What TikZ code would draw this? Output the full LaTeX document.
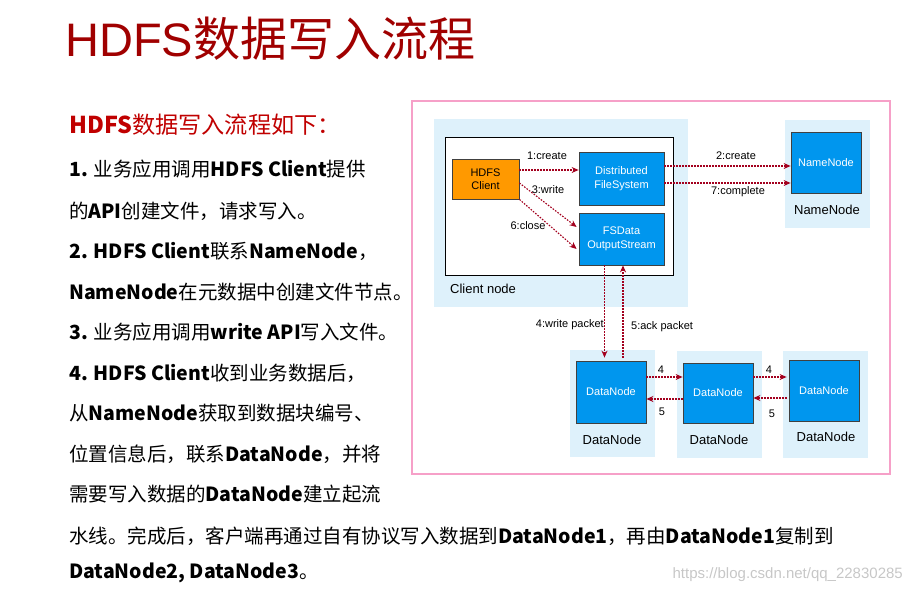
\documentclass[tikz,border=0pt]{standalone}
\usepackage{fontspec}
\setmainfont{Liberation Sans}
\newfontfamily\cjk{Noto Sans CJK SC}
\usetikzlibrary{arrows.meta}
\definecolor{titlered}{HTML}{A00000}
\definecolor{headred}{HTML}{C00000}
\definecolor{framepink}{HTML}{F6A0C8}
\definecolor{panelblue}{HTML}{DEF1FB}
\definecolor{boxblue}{HTML}{0096EE}
\definecolor{clientorange}{HTML}{FF9900}
\definecolor{arrowred}{HTML}{A3001E}
\begin{document}
\begin{tikzpicture}[x=1pt,y=-1pt,
    bluebox/.style={draw=black!75,line width=0.8pt,fill=boxblue,text=white,align=center,inner sep=0pt,font=\fontsize{11}{13.5}\selectfont},
    flow/.style={draw=arrowred,line width=1.1pt,dash pattern=on 1.6pt off 1.4pt,-{Stealth[length=7pt,width=6pt]}},
    lbl/.style={inner sep=0pt,font=\fontsize{11}{13}\selectfont},
    captext/.style={inner sep=0pt,font=\fontsize{13}{15}\selectfont},
    txt/.style={anchor=base west,inner sep=0pt,font=\cjk\fontsize{19.5}{24}\selectfont}]
\useasboundingbox (0,0) rectangle (911,592);

% title and text
\node[anchor=base west,inner sep=0pt,text=titlered,font=\fontsize{47}{51}\selectfont] (title) at (65,56) {HDFS{\cjk 数据写入流程}};
\node[txt,text=headred,font=\cjk\fontsize{23.2}{27}\selectfont] (head) at (69,133.5) {\textbf{HDFS}数据写入流程如下：};
\node[txt] (l1) at (69,176) {\textbf{1.} 业务应用调用\textbf{HDFS Client}提供};
\node[txt] (l2) at (69,218) {的\textbf{API}创建文件，请求写入。};
\node[txt] (l3) at (69,258) {\textbf{2. HDFS Client}联系\textbf{NameNode}，};
\node[txt] (l4) at (69,299) {\textbf{NameNode}在元数据中创建文件节点。};
\node[txt] (l5) at (69,339) {\textbf{3.} 业务应用调用\textbf{write API}写入文件。};
\node[txt] (l6) at (69,380) {\textbf{4. HDFS Client}收到业务数据后，};
\node[txt] (l7) at (69,420) {从\textbf{NameNode}获取到数据块编号、};
\node[txt] (l8) at (69,461) {位置信息后，联系\textbf{DataNode}，并将};
\node[txt] (l9) at (69,501) {需要写入数据的\textbf{DataNode}建立起流};
\node[txt] (l10) at (69,543) {水线。完成后，客户端再通过自有协议写入数据到\textbf{DataNode1}，再由\textbf{DataNode1}复制到};
\node[txt] (l11) at (69,578) {\textbf{DataNode2, DataNode3}。};
\node[anchor=base east,inner sep=0pt,text=black!22,font=\fontsize{15}{17}\selectfont] (mark) at (903,578) {https://blog.csdn.net/qq\_22830285};

% frame and panels
\draw[framepink,line width=2pt] (412,101) rectangle (890,474);
\fill[panelblue] (434,119) rectangle (688,307);
\fill[panelblue] (785,120) rectangle (870,228);
\fill[panelblue] (570,350) rectangle (655,457);
\fill[panelblue] (677,351) rectangle (762,458);
\fill[panelblue] (783,351) rectangle (868,458);
\draw[fill=white,line width=1pt] (445,137) rectangle (673,275);

% boxes
\node[bluebox,fill=clientorange,text=black,minimum width=67pt,minimum height=40pt] (client) at (485.5,179) {HDFS\\Client};
\node[bluebox,minimum width=85pt,minimum height=53pt] (dfs) at (621.5,178.5) {Distributed\\FileSystem};
\node[bluebox,minimum width=85pt,minimum height=52pt] (fsd) at (621.5,239) {FSData\\OutputStream};
\node[bluebox,minimum width=70pt,minimum height=61pt] (nn) at (826,162.5) {NameNode};
\node[bluebox,minimum width=70pt,minimum height=62pt] (dn1) at (611,392) {DataNode};
\node[bluebox,minimum width=70pt,minimum height=60pt] (dn2) at (718,393) {DataNode};
\node[bluebox,minimum width=70pt,minimum height=61pt] (dn3) at (824,390.5) {DataNode};

\node[captext,anchor=west] (cn) at (450,289) {Client node};
\node[captext] (nncap) at (827,210) {NameNode};
\node[captext] (dn1cap) at (612,440) {DataNode};
\node[captext] (dn2cap) at (719,440) {DataNode};
\node[captext] (dn3cap) at (826,437) {DataNode};

% arrows
\draw[flow] ([yshift=9pt]client.east) -- ([yshift=9pt]client.east -| dfs.west);
\draw[flow] ([yshift=12.5pt]dfs.east) -- ([yshift=12.5pt]dfs.east -| nn.west);
\draw[flow] ([yshift=-4.5pt]dfs.east) -- ([yshift=-4.5pt]dfs.east -| nn.west);
\draw[flow] ([yshift=-4pt]client.east) -- ([yshift=12pt,xshift=-2pt]fsd.west);
\draw[flow] (client.south east) -- ([yshift=-10pt,xshift=-2pt]fsd.west);
\draw[flow] ([xshift=-17pt]fsd.south) -- ([xshift=-17pt,yshift=3pt]fsd.south |- dn1.north);
\draw[flow] ([xshift=12pt,yshift=3pt]dn1.north) -- ([xshift=12pt]dn1.north |- fsd.south);
\draw[flow] ([yshift=15pt]dn1.east) -- ([yshift=15pt]dn1.east -| dn2.west);
\draw[flow] ([yshift=-6pt]dn2.west) -- ([yshift=-6pt]dn2.west -| dn1.east);
\draw[flow] ([yshift=16pt]dn2.east) -- ([yshift=16pt,xshift=-2pt]dn2.east -| dn3.west);
\draw[flow] ([yshift=-5pt,xshift=-2pt]dn2.east -| dn3.west) -- ([yshift=-5pt]dn2.east);

% arrow labels
\node[lbl] (a1) at (547,156) {1:create};
\node[lbl] (a2) at (736,156) {2:create};
\node[lbl] (a7) at (738,192) {7:complete};
\node[lbl] (a3) at (548,190) {3:write};
\node[lbl] (a6) at (528,226) {6:close};
\node[lbl,anchor=east] (a4) at (604,325) {4:write packet};
\node[lbl,anchor=west] (a5) at (631,327) {5:ack packet};
\node[lbl] (d4a) at (661,370) {4};
\node[lbl] (d5a) at (662,412) {5};
\node[lbl] (d4b) at (769,370) {4};
\node[lbl] (d5b) at (772,414) {5};
\end{tikzpicture}
\end{document}
